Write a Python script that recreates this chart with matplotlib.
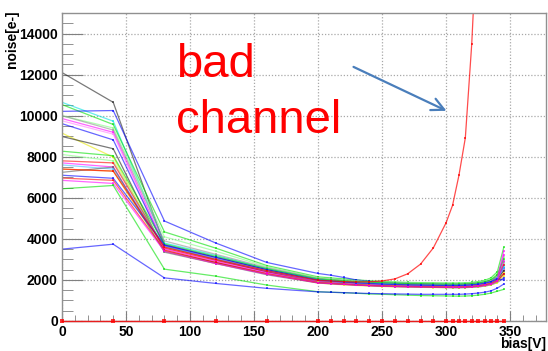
import numpy as np
from matplotlib import pyplot as plt
from matplotlib.ticker import MultipleLocator

plt.rcParams['font.family'] = ['Liberation Sans', 'DejaVu Sans']

# bias points [V]
bias = [0, 40, 80, 120, 160, 200, 210, 220, 230, 240, 250, 260, 270, 280,
        290, 300, 305, 310, 315, 320, 325, 330, 335, 340, 345]

# noise [e-] per channel
channels = [
    ('#202020', [12100, 10650, 3700, 3100, 2500, 2000, 1950, 1900, 1860, 1830, 1800, 1780, 1760, 1750,
                 1740, 1730, 1730, 1730, 1740, 1750, 1780, 1820, 1900, 2050, 2500]),
    ('#00e0e0', [10650, 9730, 3800, 3200, 2550, 2050, 2000, 1950, 1900, 1870, 1840, 1820, 1800, 1790,
                 1780, 1770, 1770, 1770, 1780, 1790, 1820, 1870, 1950, 2150, 2700]),
    ('#00e000', [10540, 9570, 4340, 3550, 2700, 2150, 2100, 2050, 2000, 1960, 1930, 1900, 1880, 1870,
                 1860, 1850, 1850, 1850, 1860, 1880, 1920, 1980, 2100, 2400, 3580]),
    ('#0000ff', [10210, 10250, 4870, 3800, 2850, 2315, 2230, 2120, 2000, 1930, 1880, 1850, 1830, 1820,
                 1810, 1800, 1800, 1800, 1810, 1820, 1850, 1900, 1980, 2150, 2600]),
    ('#80ff80', [10000, 9400, 4100, 3400, 2650, 2100, 2050, 2000, 1960, 1920, 1900, 1880, 1860, 1850,
                 1840, 1830, 1830, 1830, 1840, 1860, 1890, 1950, 2050, 2300, 3100]),
    ('#909090', [10000, 9300, 3900, 3250, 2600, 2080, 2030, 1980, 1940, 1900, 1870, 1850, 1830, 1820,
                 1810, 1800, 1800, 1800, 1810, 1830, 1860, 1910, 2000, 2200, 2850]),
    ('#ff00ff', [9860, 9190, 3700, 3050, 2450, 1950, 1900, 1860, 1820, 1790, 1760, 1740, 1720, 1710,
                 1700, 1690, 1690, 1690, 1700, 1720, 1750, 1800, 1900, 2100, 3200]),
    ('#ff80ff', [9750, 9100, 3550, 2950, 2400, 1930, 1890, 1850, 1810, 1780, 1760, 1740, 1720, 1710,
                 1700, 1700, 1700, 1700, 1710, 1730, 1760, 1810, 1890, 2050, 2500]),
    ('#0000ff', [9610, 8820, 3650, 3000, 2400, 1900, 1850, 1800, 1760, 1730, 1700, 1680, 1660, 1650,
                 1640, 1630, 1620, 1620, 1630, 1640, 1660, 1700, 1760, 1880, 2100]),
    ('#e8e800', [9150, 7980, 3450, 2850, 2300, 1850, 1800, 1760, 1730, 1700, 1680, 1660, 1650, 1640,
                 1630, 1620, 1620, 1620, 1630, 1640, 1660, 1700, 1760, 1870, 2200]),
    ('#202020', [8985, 8390, 3400, 2850, 2300, 1880, 1840, 1800, 1770, 1740, 1720, 1700, 1690, 1680,
                 1670, 1660, 1660, 1660, 1670, 1690, 1720, 1770, 1850, 2000, 2450]),
    ('#00e000', [8270, 8050, 3750, 3150, 2550, 2050, 2000, 1960, 1920, 1890, 1860, 1840, 1820, 1810,
                 1800, 1790, 1790, 1790, 1800, 1820, 1850, 1900, 2000, 2250, 3000]),
    ('#80ff80', [8110, 7800, 3600, 3000, 2450, 1980, 1940, 1900, 1860, 1830, 1800, 1780, 1770, 1760,
                 1750, 1740, 1740, 1740, 1750, 1770, 1800, 1850, 1950, 2150, 2800]),
    ('#ff0000', [7800, 7700, 3550, 2950, 2400, 1950, 1900, 1870, 1830, 1800, 1780, 1760, 1750, 1740,
                 1730, 1720, 1720, 1720, 1730, 1750, 1780, 1830, 1920, 2100, 2750]),
    ('#ff00ff', [7700, 7500, 3500, 2900, 2350, 1920, 1880, 1840, 1810, 1780, 1760, 1740, 1720, 1710,
                 1700, 1700, 1700, 1700, 1710, 1730, 1760, 1810, 1900, 2080, 3400]),
    ('#40c0ff', [7600, 7400, 3650, 3050, 2450, 1970, 1920, 1880, 1840, 1810, 1790, 1770, 1750, 1740,
                 1730, 1720, 1720, 1720, 1730, 1750, 1780, 1830, 1910, 2080, 2600]),
    ('#e8e800', [7400, 7300, 3400, 2800, 2300, 1880, 1840, 1800, 1770, 1740, 1720, 1700, 1690, 1680,
                 1670, 1660, 1660, 1660, 1670, 1690, 1710, 1760, 1830, 1980, 2350]),
    ('#606060', [7240, 7500, 3350, 2800, 2250, 1850, 1810, 1780, 1750, 1720, 1700, 1680, 1670, 1660,
                 1650, 1640, 1640, 1640, 1650, 1670, 1690, 1740, 1800, 1950, 2300]),
    ('#0000ff', [7100, 6950, 3700, 3100, 2500, 2000, 1950, 1900, 1860, 1830, 1800, 1780, 1760, 1750,
                 1740, 1730, 1730, 1730, 1740, 1760, 1790, 1840, 1920, 2050, 2000]),
    ('#ff0000', [6960, 6850, 3450, 2850, 2300, 1870, 1830, 1790, 1760, 1730, 1710, 1690, 1680, 1670,
                 1660, 1650, 1650, 1650, 1660, 1680, 1700, 1750, 1820, 1950, 2300]),
    ('#ff00ff', [6850, 6700, 3400, 2800, 2280, 1860, 1820, 1780, 1750, 1720, 1700, 1680, 1670, 1660,
                 1650, 1640, 1640, 1640, 1650, 1670, 1690, 1730, 1800, 1950, 2900]),
    ('#00e000', [6440, 6600, 2525, 2185, 1750, 1425, 1400, 1380, 1350, 1320, 1300, 1280, 1260, 1240,
                 1230, 1220, 1215, 1210, 1215, 1230, 1260, 1300, 1360, 1450, 1540]),
    ('#0000ff', [3500, 3740, 2100, 1830, 1590, 1420, 1400, 1380, 1360, 1340, 1330, 1320, 1310, 1300,
                 1300, 1300, 1300, 1300, 1310, 1330, 1360, 1400, 1470, 1600, 1800]),
]

# dead channel sitting on zero
dead = [0, 0, 0, 0, 0, 0, 0, 0, 0, 0, 0, 0, 0, 0,
        0, 0, 0, 0, 0, 0, 0, 0, 0, 0, 0]

# the bad channel, stops at 325 V
bad = [7400, 7300, 3600, 3000, 2450, 1980, 1950, 1920, 1900, 1910, 1950, 2050, 2300, 2770,
       3560, 4790, 5630, 7090, 8920, 13490, 20000]

fig = plt.figure(figsize=(5.48, 3.51), dpi=100)
ax = fig.add_axes([62 / 548, 30 / 351, 484 / 548, 308 / 351])

for color, vals in channels:
    ax.plot(bias[:len(vals)], vals, color=color, lw=0.9, alpha=0.6,
            marker='s', markersize=2, markeredgewidth=0)
ax.plot(bias[:len(bad)], bad, color='#ff0000', lw=0.9, alpha=0.7,
        marker='s', markersize=2, markeredgewidth=0)
ax.plot(bias, dead, color='#ff0000', lw=1.0, alpha=0.8, marker='s', markersize=2.5,
        markeredgewidth=0, clip_on=False, zorder=5)

ax.set_xlim(0, 378)
ax.set_ylim(0, 15000)
ax.xaxis.set_major_locator(MultipleLocator(50))
ax.xaxis.set_minor_locator(MultipleLocator(10))
ax.yaxis.set_major_locator(MultipleLocator(2000))
ax.yaxis.set_minor_locator(MultipleLocator(500))

ax.grid(which='major', color='#a8a8a8', lw=0.9, linestyle=(0, (1, 1.5)))
ax.set_axisbelow(True)
for s in ax.spines.values():
    s.set_color('#909090')
    s.set_linewidth(1.0)

ax.tick_params(axis='x', which='major', direction='in', length=7, color='#808080', pad=3,
               labelsize=10)
ax.tick_params(axis='x', which='minor', direction='in', length=4, color='#808080')
ax.tick_params(axis='y', which='major', direction='in', length=15, color='#808080', pad=3,
               labelsize=10)
ax.tick_params(axis='y', which='minor', direction='in', length=8, color='#808080')
for lab in ax.get_xticklabels() + ax.get_yticklabels():
    lab.set_fontweight('bold')

fig.text(12 / 548, 1 - 10 / 351, 'noise[e-]', rotation=90, ha='center', va='top',
         fontsize=10, fontweight='bold')
fig.text(546 / 548, 1 - 348 / 351, 'bias[V]', ha='right', va='baseline',
         fontsize=10, fontweight='bold')

fig.text(176 / 548, 1 - 76.7 / 351, 'bad', color='#ff0000', fontsize=34, va='baseline')
fig.text(176 / 548, 1 - 133.3 / 351, 'channel', color='#ff0000', fontsize=34, va='baseline')

ax.annotate('', xy=(449, 351 - 112), xycoords='figure pixels',
            xytext=(351, 351 - 65.7), textcoords='figure pixels',
            arrowprops=dict(arrowstyle='->, head_length=0.9, head_width=0.45',
                            color='#4a7ebb', lw=1.6))

plt.savefig('out.png', dpi=100)
